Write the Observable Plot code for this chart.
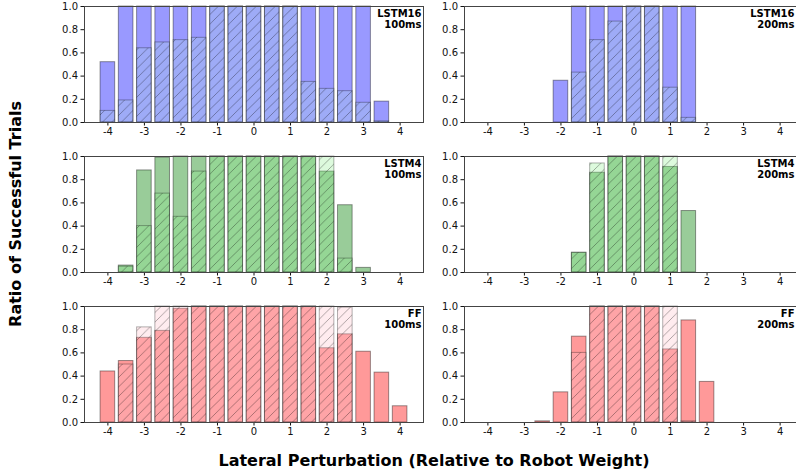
<!DOCTYPE html>
<html>
<head>
<meta charset="utf-8">
<script src="https://cdn.jsdelivr.net/npm/d3@7"></script>
<script src="https://cdn.jsdelivr.net/npm/@observablehq/plot@0.6"></script>
<style>
  body { margin: 0; background: #fff; }
  #fig { position: relative; width: 796px; height: 469px; overflow: hidden; background: #fff;
         font-family: "DejaVu Sans", sans-serif; }
  .panel { position: absolute; width: 389px; height: 150px; }
  .panel svg { max-width: none !important; }
  .titles { position: absolute; left: 0; top: 0; pointer-events: none; }
</style>
</head>
<body>
<div id="fig"></div>
<script>
// Lateral perturbation offsets (relative to robot weight) and axis ticks
const offsets = [-4, -3.5, -3, -2.5, -2, -1.5, -1, -0.5, 0, 0.5, 1, 1.5, 2, 2.5, 3, 3.5, 4];
const xTicks = [-4, -3, -2, -1, 0, 1, 2, 3, 4];
const yTicks = [0, 0.2, 0.4, 0.6, 0.8, 1.0];

// Ratio of successful trials: plain bars and hatched bars per controller / delay
const lstm16_100_plain = [0.52, 1, 1, 1, 1, 1, 1, 1, 1, 1, 1, 1, 1, 1, 1, 0.18, 0];
const lstm16_100_hatch = [0.10, 0.19, 0.64, 0.69, 0.71, 0.73, 1, 1, 1, 1, 1, 0.35, 0.29, 0.27, 0.17, 0.01, 0];
const lstm16_200_plain = [0, 0, 0, 0, 0.36, 1, 1, 1, 1, 1, 1, 1, 0, 0, 0, 0, 0];
const lstm16_200_hatch = [0, 0, 0, 0, 0, 0.43, 0.71, 0.87, 1, 1, 0.30, 0.04, 0, 0, 0, 0, 0];

const lstm4_100_plain = [0, 0.06, 0.88, 0.99, 1, 1, 1, 1, 1, 1, 1, 1, 0.87, 0.58, 0.04, 0, 0];
const lstm4_100_hatch = [0, 0.05, 0.40, 0.68, 0.48, 0.87, 1, 1, 1, 1, 1, 1, 1, 0.12, 0, 0, 0];
const lstm4_200_plain = [0, 0, 0, 0, 0, 0.17, 0.86, 1, 1, 1, 0.91, 0.53, 0, 0, 0, 0, 0];
const lstm4_200_hatch = [0, 0, 0, 0, 0, 0.17, 0.94, 1, 1, 1, 1, 0, 0, 0, 0, 0, 0];

const ff_100_plain = [0.44, 0.53, 0.73, 0.79, 0.98, 1, 1, 1, 1, 1, 1, 1, 0.64, 0.76, 0.61, 0.43, 0.14];
const ff_100_hatch = [0, 0.50, 0.82, 1, 1, 1, 1, 1, 1, 1, 1, 1, 1, 0.99, 0, 0, 0];
const ff_200_plain = [0, 0, 0, 0.01, 0.26, 0.74, 1, 1, 1, 1, 0.63, 0.88, 0.35, 0, 0, 0, 0];
const ff_200_hatch = [0, 0, 0, 0, 0, 0.60, 1, 1, 1, 1, 1, 0.01, 0, 0, 0, 0, 0];

const models = ["LSTM16", "LSTM4", "FF"];
const delays = ["100ms", "200ms"];

const palette = {
  LSTM16: { plain: "#9999ff", hatch: "#add8e6" },
  LSTM4:  { plain: "#99cc99", hatch: "#90ee90" },
  FF:     { plain: "#ff9999", hatch: "#ffc0cb" }
};

const series = {
  "LSTM16 100ms": [lstm16_100_plain, lstm16_100_hatch],
  "LSTM16 200ms": [lstm16_200_plain, lstm16_200_hatch],
  "LSTM4 100ms":  [lstm4_100_plain, lstm4_100_hatch],
  "LSTM4 200ms":  [lstm4_200_plain, lstm4_200_hatch],
  "FF 100ms":     [ff_100_plain, ff_100_hatch],
  "FF 200ms":     [ff_200_plain, ff_200_hatch]
};

const fig = d3.select("#fig");

// Shared diagonal hatch pattern
const H = 9.5;
const defs = fig.append("svg").attr("width", 0).attr("height", 0)
  .style("position", "absolute").append("defs");
defs.append("pattern")
  .attr("id", "hatch")
  .attr("patternUnits", "userSpaceOnUse")
  .attr("width", H).attr("height", H)
  .append("path")
  .attr("d", `M0,${H} L${H},0 M${-H / 2},${H / 2} L${H / 2},${-H / 2} M${H / 2},${H * 1.5} L${H * 1.5},${H / 2}`)
  .attr("stroke", "#000")
  .attr("stroke-opacity", 0.4)
  .attr("stroke-width", 0.8);

const halfWidth = 0.2;

function panel(model, delay, c) {
  const [plain, hatch] = series[`${model} ${delay}`];
  const rows = offsets.map((x, i) => ({ x, plain: plain[i], hatch: hatch[i] }));
  const col = palette[model];
  const x1 = d => d.x - halfWidth;
  const x2 = d => d.x + halfWidth;
  return Plot.plot({
    width: 389,
    height: 150,
    marginLeft: 40,
    marginRight: 10,
    marginTop: 6,
    marginBottom: 28,
    style: { fontFamily: "DejaVu Sans, sans-serif", fontSize: "10px", color: "#111", background: "transparent", overflow: "visible", maxWidth: "none" },
    x: { domain: [-4.64, 4.64], ticks: xTicks, tickFormat: d => String(d), tickSize: 3.5, tickPadding: 2, label: null },
    y: { domain: [0, 1], ticks: yTicks, tickFormat: d3.format(".1f"), tickSize: 3.5, tickPadding: 3, label: null },
    marks: [
      Plot.rect(rows, { x1, x2, y1: 0, y2: "plain", fill: col.plain, stroke: "#000", strokeOpacity: 0.4, strokeWidth: 1 }),
      Plot.rect(rows, { x1, x2, y1: 0, y2: "hatch", fill: col.hatch, fillOpacity: 0.3 }),
      Plot.rect(rows, { x1, x2, y1: 0, y2: "hatch", fill: "url(#hatch)", stroke: "#000", strokeOpacity: 0.3, strokeWidth: 1 }),
      Plot.frame({ stroke: "#444", strokeWidth: 1 }),
      Plot.text([`${model}\n${delay}`], {
        text: d => d, frameAnchor: "top-right", textAnchor: "end", lineAnchor: "top",
        fontWeight: "bold", fontSize: 10, lineHeight: 1.08, dx: c === 0 ? -2 : -9, dy: 3, fill: "#000"
      })
    ]
  });
}

models.forEach((model, r) => {
  delays.forEach((delay, c) => {
    const node = panel(model, delay, c);
    fig.append("div").attr("class", "panel")
      .style("left", `${44 + c * 380}px`)
      .style("top", `${r * 150}px`)
      .node().appendChild(node);
  });
});

// Shared axis titles
const titles = fig.append("svg").attr("class", "titles").attr("width", 796).attr("height", 469);
titles.append("text")
  .attr("transform", "translate(21,214) rotate(-90)")
  .attr("text-anchor", "middle")
  .attr("font-family", "DejaVu Sans, sans-serif")
  .attr("font-weight", "bold").attr("font-size", 16)
  .text("Ratio of Successful Trials");
titles.append("text")
  .attr("x", 434).attr("y", 466)
  .attr("text-anchor", "middle")
  .attr("font-family", "DejaVu Sans, sans-serif")
  .attr("font-weight", "bold").attr("font-size", 16)
  .text("Lateral Perturbation (Relative to Robot Weight)");
</script>
</body>
</html>
